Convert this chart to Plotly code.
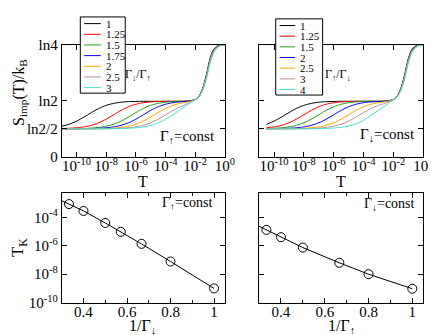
import numpy as np
import plotly.graph_objects as go

W, H = 436, 335

# log10(T) grid on which the entropy curves were read
logT_left = [-11, -10.5, -10, -9.5, -9, -8.5, -8, -7.5, -7, -6.5, -6, -5.5, -5, -4.5,
             -4, -3.5, -3, -2.5, -2, -1.75, -1.5, -1.25, -1, -0.75, -0.5, -0.25, 0]
logT_right = logT_left[1:]

# S_imp/(k_B ln2), Gamma_up = const, curves labelled by Gamma_down/Gamma_up
ratio_left = ["1", "1.25", "1.5", "1.75", "2", "2.5", "3"]
sl_1 = [0.547, 0.582, 0.637, 0.710, 0.790, 0.863, 0.918, 0.953, 0.974, 0.984, 0.988, 0.99, 0.99, 0.99,
        0.99, 0.99, 0.99, 0.995, 1.02, 1.08, 1.22, 1.46, 1.75, 1.92, 1.975, 1.995, 2.0]
sl_125 = [0.505, 0.51, 0.519, 0.535, 0.562, 0.607, 0.672, 0.75, 0.829, 0.893, 0.938, 0.966, 0.98, 0.986,
          0.99, 0.99, 0.99, 0.995, 1.02, 1.078, 1.215, 1.45, 1.74, 1.915, 1.972, 1.994, 2.0]
sl_15 = [0.501, 0.502, 0.504, 0.507, 0.514, 0.526, 0.547, 0.582, 0.637, 0.710, 0.790, 0.863, 0.918, 0.953,
         0.974, 0.984, 0.988, 0.995, 1.02, 1.076, 1.21, 1.44, 1.73, 1.91, 1.97, 1.993, 2.0]
sl_175 = [0.5, 0.5, 0.501, 0.503, 0.505, 0.51, 0.519, 0.535, 0.562, 0.607, 0.672, 0.75, 0.829, 0.893,
          0.938, 0.966, 0.98, 0.99, 1.02, 1.074, 1.205, 1.43, 1.72, 1.9, 1.965, 1.992, 2.0]
sl_2 = [0.5, 0.5, 0.5, 0.501, 0.502, 0.504, 0.507, 0.514, 0.526, 0.547, 0.582, 0.637, 0.710, 0.790,
        0.863, 0.918, 0.953, 0.98, 1.02, 1.072, 1.2, 1.42, 1.71, 1.89, 1.96, 1.99, 2.0]
sl_25 = [0.5, 0.5, 0.5, 0.5, 0.5, 0.501, 0.503, 0.505, 0.51, 0.519, 0.535, 0.562, 0.607, 0.672,
         0.75, 0.829, 0.893, 0.955, 1.02, 1.07, 1.195, 1.41, 1.695, 1.88, 1.955, 1.988, 2.0]
sl_3 = [0.5, 0.5, 0.5, 0.5, 0.5, 0.5, 0.501, 0.503, 0.505, 0.51, 0.519, 0.535, 0.562, 0.607,
        0.672, 0.75, 0.84, 0.935, 1.02, 1.065, 1.185, 1.39, 1.67, 1.86, 1.945, 1.985, 2.0]

# Gamma_down = const, curves labelled by Gamma_up/Gamma_down
ratio_right = ["1", "1.25", "1.5", "2", "2.5", "3", "4"]
sr_1 = [0.582, 0.637, 0.710, 0.790, 0.863, 0.918, 0.953, 0.974, 0.984, 0.988, 0.99, 0.99, 0.99,
        0.99, 0.99, 0.99, 0.995, 1.02, 1.08, 1.22, 1.46, 1.75, 1.92, 1.975, 1.995, 2.0]
sr_125 = [0.519, 0.535, 0.562, 0.607, 0.672, 0.75, 0.829, 0.893, 0.938, 0.966, 0.98, 0.986, 0.99,
          0.99, 0.99, 0.99, 0.995, 1.02, 1.078, 1.215, 1.45, 1.74, 1.915, 1.972, 1.994, 2.0]
sr_15 = [0.505, 0.51, 0.519, 0.535, 0.562, 0.607, 0.672, 0.75, 0.829, 0.893, 0.938, 0.966, 0.98,
         0.986, 0.99, 0.99, 0.995, 1.02, 1.076, 1.21, 1.44, 1.73, 1.91, 1.97, 1.993, 2.0]
sr_2 = [0.501, 0.503, 0.505, 0.51, 0.519, 0.535, 0.562, 0.607, 0.672, 0.75, 0.829, 0.893, 0.938,
        0.966, 0.98, 0.986, 0.993, 1.02, 1.074, 1.205, 1.43, 1.72, 1.9, 1.965, 1.992, 2.0]
sr_25 = [0.5, 0.5, 0.501, 0.503, 0.505, 0.51, 0.519, 0.535, 0.562, 0.607, 0.672, 0.75, 0.829,
         0.893, 0.938, 0.966, 0.985, 1.02, 1.072, 1.2, 1.42, 1.71, 1.89, 1.96, 1.99, 2.0]
sr_3 = [0.5, 0.5, 0.5, 0.501, 0.502, 0.504, 0.507, 0.514, 0.526, 0.547, 0.582, 0.637, 0.710,
        0.790, 0.863, 0.918, 0.96, 1.02, 1.07, 1.195, 1.41, 1.695, 1.88, 1.955, 1.988, 2.0]
sr_4 = [0.5, 0.5, 0.5, 0.5, 0.5, 0.5, 0.502, 0.504, 0.508, 0.515, 0.528, 0.55, 0.59,
        0.655, 0.74, 0.83, 0.92, 1.02, 1.065, 1.185, 1.39, 1.67, 1.86, 1.945, 1.985, 2.0]

# Kondo temperatures (bottom panels)
gdown_ratio = [1, 1.25, 1.5, 1.75, 2, 2.5, 3]
tk_left = [1.0e-9, 7.8e-8, 1.35e-6, 9.5e-6, 4.0e-5, 2.8e-4, 8.5e-4]
gup_ratio = [1, 1.25, 1.5, 2, 2.5, 3]
tk_right = [9.5e-10, 1.0e-8, 6.3e-8, 7.4e-7, 4.0e-6, 1.3e-5]

colors = ["#000000", "#ff0000", "#1f9f1f", "#0000ff", "#ffa500", "#bc8f8f", "#40e0d0"]
FONT = "Liberation Serif"


def px(x):
    return x / W


def py(y):
    return 1 - y / H


fig = go.Figure()

left_curves = [sl_1, sl_125, sl_15, sl_175, sl_2, sl_25, sl_3]
right_curves = [sr_1, sr_125, sr_15, sr_2, sr_25, sr_3, sr_4]
T_left = [10.0 ** v for v in logT_left]
T_right = [10.0 ** v for v in logT_right]
for s, c, name in zip(left_curves, colors, ratio_left):
    fig.add_trace(go.Scatter(x=T_left, y=s, mode="lines", line=dict(color=c, width=1, shape="spline", smoothing=0.8),
                             name=name, xaxis="x", yaxis="y"))
for s, c, name in zip(right_curves, colors, ratio_right):
    fig.add_trace(go.Scatter(x=T_right, y=s, mode="lines", line=dict(color=c, width=1, shape="spline", smoothing=0.8),
                             name=name, xaxis="x2", yaxis="y2"))


def tk_panel(ratios, tk, xa, ya):
    x = 1.0 / np.array(ratios, dtype=float)
    ly = np.log10(tk)
    order = np.argsort(x)
    x, ly = x[order], ly[order]
    # straight extension of the line to the left axis edge
    slope = (ly[1] - ly[0]) / (x[1] - x[0])
    x_line = np.concatenate([[0.3], x])
    y_line = np.concatenate([[ly[0] + slope * (0.3 - x[0])], ly])
    fig.add_trace(go.Scatter(x=x_line, y=10 ** y_line, mode="lines", line=dict(color="black", width=1),
                             xaxis=xa, yaxis=ya))
    fig.add_trace(go.Scatter(x=x, y=10 ** ly, mode="markers",
                             marker=dict(symbol="circle-open", size=9, color="black", line=dict(width=1)),
                             xaxis=xa, yaxis=ya))


tk_panel(gdown_ratio, tk_left, "x3", "y3")
tk_panel(gup_ratio, tk_right, "x4", "y4")

axis_common = dict(showline=True, linecolor="black", linewidth=1, mirror="ticks", ticks="inside",
                   ticklen=5, tickcolor="black", showgrid=False, zeroline=False,
                   tickfont=dict(family=FONT, size=15, color="black"))
xcommon = dict(axis_common, ticklabelstandoff=-5)

left_dom = [px(55), px(222)]
right_dom = [px(257), px(425)]
top_dom = [py(148), py(30)]
bot_dom = [py(301), py(186)]

logt_ticks = [1e-10, 1e-8, 1e-6, 1e-4, 1e-2, 1]
logt_text = ["10<sup>-10</sup>", "10<sup>-8</sup>", "10<sup>-6</sup>", "10<sup>-4</sup>", "10<sup>-2</sup>",
             "10<sup>0</sup>"]
tk_ticks = [1e-10, 1e-8, 1e-6, 1e-4]
tk_text = ["10<sup>-10</sup>", "10<sup>-8</sup>", "10<sup>-6</sup>", "10<sup>-4</sup>"]

fig.update_layout(
    width=W, height=H, margin=dict(l=0, r=0, t=0, b=0),
    paper_bgcolor="white", plot_bgcolor="white", showlegend=False,
    font=dict(family=FONT, color="black"),
    xaxis=dict(xcommon, domain=left_dom, anchor="y", type="log", range=[-11, 0],
               tickvals=logt_ticks, ticktext=logt_text),
    yaxis=dict(axis_common, domain=top_dom, anchor="x", range=[0, 2],
               tickvals=[0, 0.5, 1, 2], ticktext=["0", "ln2/2", "ln2", "ln4"]),
    xaxis2=dict(xcommon, domain=right_dom, anchor="y2", type="log", range=[-11, 0],
                tickvals=logt_ticks, ticktext=logt_text),
    yaxis2=dict(axis_common, domain=top_dom, anchor="x2", range=[0, 2],
                tickvals=[0, 0.5, 1, 2], showticklabels=False),
    xaxis3=dict(xcommon, domain=left_dom, anchor="y3", range=[0.3, 1.05], tick0=0.4, dtick=0.2,
                minor=dict(dtick=0.1, tick0=0.3, ticks="inside", ticklen=3, tickcolor="black")),
    yaxis3=dict(axis_common, domain=bot_dom, anchor="x3", type="log", range=[-10, -2.3],
                tickvals=tk_ticks, ticktext=tk_text),
    xaxis4=dict(xcommon, domain=right_dom, anchor="y4", range=[0.3, 1.05], tick0=0.4, dtick=0.2,
                minor=dict(dtick=0.1, tick0=0.3, ticks="inside", ticklen=3, tickcolor="black")),
    yaxis4=dict(axis_common, domain=bot_dom, anchor="x4", type="log", range=[-10, -2.3],
                tickvals=tk_ticks, showticklabels=False),
)

shapes = []
annotations = []


def note(x, y, text, size=14, angle=0, xanchor="center"):
    annotations.append(dict(x=px(x), y=py(y), xref="paper", yref="paper", text=text, showarrow=False,
                            textangle=angle, xanchor=xanchor, yanchor="middle", borderpad=0,
                            font=dict(family=FONT, size=size, color="black")))


# hand-drawn legend boxes
def legend_box(x0, y0, x1, y1, labels, ly0, step, lx0, lx1):
    shapes.append(dict(type="rect", xref="paper", yref="paper", x0=px(x0), x1=px(x1), y0=py(y1), y1=py(y0),
                       line=dict(color="black", width=1), fillcolor="white", layer="above"))
    for i, (lab, c) in enumerate(zip(labels, colors)):
        yy = ly0 + i * step
        shapes.append(dict(type="line", xref="paper", yref="paper", x0=px(lx0), x1=px(lx1), y0=py(yy), y1=py(yy),
                           line=dict(color=c, width=1), layer="above"))
        note(lx1 + 4, yy, lab, size=11, xanchor="left")


legend_box(74, 1, 120, 81, ratio_left, 8, 11.2, 78, 95)
legend_box(274, 3, 322, 83, ratio_right, 10, 11.2, 278, 294)

note(133, 62, "Γ<sub>↓</sub>/Γ<sub>↑</sub>", size=12)
note(338, 62, "Γ<sub>↑</sub>/Γ<sub>↓</sub>", size=12)
note(184, 127, "Γ<sub>↑</sub>=const", size=15)
note(388, 125, "Γ<sub>↓</sub>=const", size=15)
note(184, 197, "Γ<sub>↑</sub>=const", size=14)
note(390, 198, "Γ<sub>↓</sub>=const", size=14)
note(138, 174, "T", size=16)
note(341, 174, "T", size=16)
note(138, 326, "1/Γ<sub>↓</sub>", size=16)
note(341, 326, "1/Γ<sub>↑</sub>", size=16)
note(11, 80, "S<sub>imp</sub>(T)/k<sub>B</sub>", size=16, angle=-90)
note(12, 243, "T<sub>K</sub>", size=17, angle=-90)

fig.update_layout(shapes=shapes, annotations=annotations)
fig.write_html("out.html")
